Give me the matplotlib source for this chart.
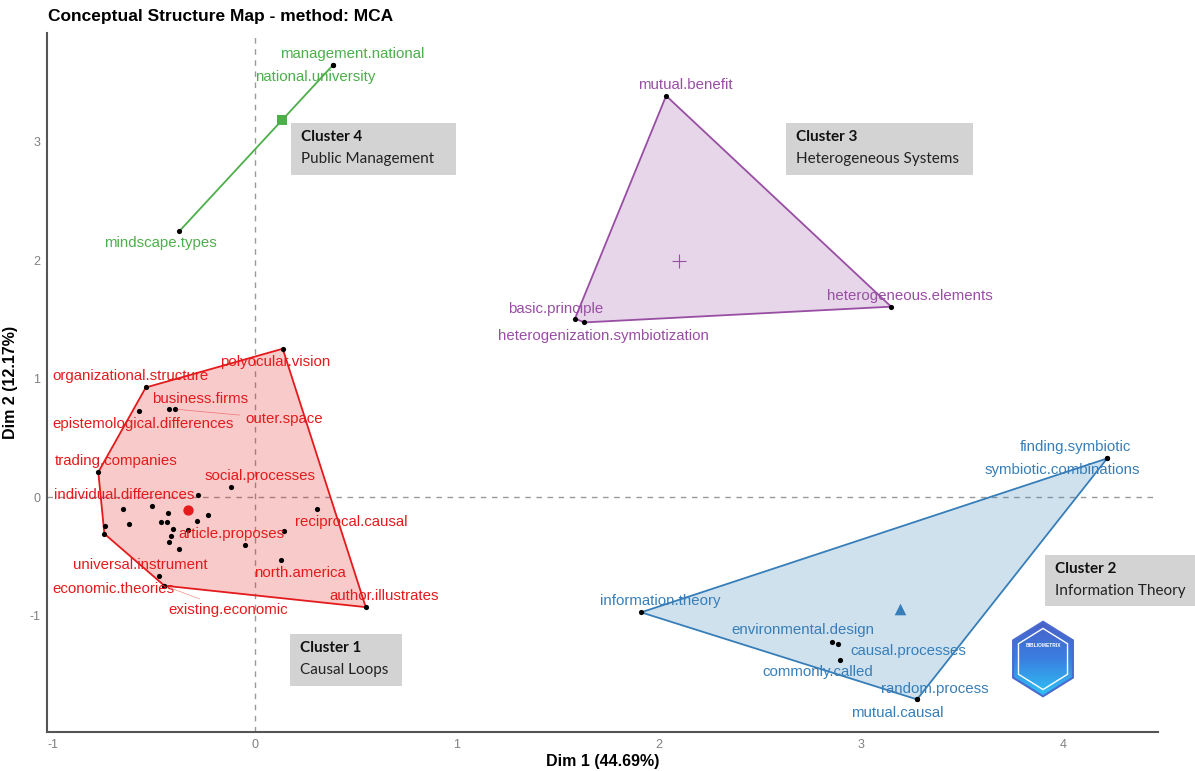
"""
Carte de structure conceptuelle (MCA) : 4 clusters de mots avec enveloppes convexes.
"""
import numpy as np
import matplotlib
matplotlib.use('Agg')
import matplotlib.pyplot as plt
from matplotlib.patches import Polygon, Rectangle, RegularPolygon

plt.rcParams['font.family'] = ['Liberation Sans', 'DejaVu Sans']
plt.rcParams['axes.unicode_minus'] = False  # "-1" comme dans ggplot

# ─── Données ─────────────────────────────────────────────────────────────────
c1_words = ['polyocular.vision', 'organizational.structure', 'epistemological.differences',
            'business.firms', 'outer.space', 'trading.companies', 'social.processes',
            'individual.differences', '', '', '', '', '', '', '', '', '', '', '',
            'article.proposes', '', '', '', '', 'reciprocal.causal', '', 'north.america',
            'universal.instrument', 'economic.theories', 'existing.economic', 'author.illustrates']
c1_x = [0.137, -0.541, -0.573, -0.424, -0.396, -0.776, -0.119, -0.284, -0.652, -0.511,
        -0.431, -0.289, -0.234, -0.743, -0.746, -0.622, -0.467, -0.437, -0.404, -0.330,
        -0.418, -0.424, -0.378, -0.051, 0.305, 0.145, 0.127, -0.478, -0.449, -0.449, 0.548]
c1_y = [1.255, 0.928, 0.726, 0.745, 0.745, 0.214, 0.087, 0.020, -0.101, -0.073,
        -0.129, -0.197, -0.149, -0.242, -0.307, -0.228, -0.208, -0.208, -0.264, -0.278,
        -0.327, -0.374, -0.436, -0.405, -0.096, -0.281, -0.526, -0.667, -0.745, -0.745, -0.926]

c2_words = ['finding.symbiotic', 'symbiotic.combinations', 'information.theory',
            'environmental.design', 'causal.processes', 'commonly.called',
            'random.process', 'mutual.causal']
c2_x = [4.218, 4.218, 1.911, 2.856, 2.886, 2.896, 3.277, 3.277]
c2_y = [0.329, 0.329, -0.970, -1.224, -1.240, -1.376, -1.705, -1.705]

c3_words = ['mutual.benefit', 'basic.principle', 'heterogenization.symbiotization',
            'heterogeneous.elements']
c3_x = [2.035, 1.584, 1.629, 3.149]
c3_y = [3.390, 1.510, 1.477, 1.610]

c4_words = ['management.national', 'national.university', 'mindscape.types']
c4_x = [0.386, 0.386, -0.376]
c4_y = [3.650, 3.650, 2.245]

cluster_titles = ['Cluster 1', 'Cluster 2', 'Cluster 3', 'Cluster 4']
cluster_names = ['Causal Loops', 'Information Theory', 'Heterogeneous Systems', 'Public Management']

x_ticks = [-1, 0, 1, 2, 3, 4]
y_ticks = [-1, 0, 1, 2, 3]

# ─── Mise en forme ───────────────────────────────────────────────────────────
colors = ['#E41A1C', '#377EB8', '#984EA3', '#4DAF4A']
centroid_markers = ['o', '^', '+', 's']
centroid_sizes = [55, 70, 110, 50]

# décalage des étiquettes (pixels, x vers la droite, y vers le bas) façon ggrepel
label_offsets = {
    'polyocular.vision': (-8, 13), 'organizational.structure': (-15, -11),
    'epistemological.differences': (4, 13), 'business.firms': (31, -10),
    'outer.space': (109, 10), 'trading.companies': (18, -11),
    'social.processes': (29, -11), 'individual.differences': (-74, 0),
    'article.proposes': (43, 4), 'reciprocal.causal': (35, 13),
    'north.america': (19, 13), 'universal.instrument': (-18, -11),
    'economic.theories': (-51, 3), 'existing.economic': (64, 24),
    'author.illustrates': (18, -11),
    'finding.symbiotic': (-32, -11), 'symbiotic.combinations': (-45, 12),
    'information.theory': (19, -11), 'environmental.design': (-29, -12),
    'causal.processes': (70, 7), 'commonly.called': (-22, 12),
    'random.process': (18, -10), 'mutual.causal': (-20, 14),
    'mutual.benefit': (19, -11), 'basic.principle': (-19, -10),
    'heterogenization.symbiotization': (19, 14), 'heterogeneous.elements': (19, -11),
    'management.national': (19, -11), 'national.university': (-18, 12),
    'mindscape.types': (-19, 12),
}
leader_words = {'outer.space', 'existing.economic'}

# boîtes grises des clusters (pixels image : x0, y0, x1, y1)
boxes_px = [(290, 634, 402, 686), (1045, 555, 1200, 606),
            (786, 123, 973, 175), (291, 123, 456, 175)]

W, H = 1195, 771


def convex_hull(pts):
    """Enveloppe convexe (chaîne monotone d'Andrew)."""
    pts = sorted(set(pts))
    if len(pts) < 3:
        return pts

    def cross(o, a, b):
        return (a[0] - o[0]) * (b[1] - o[1]) - (a[1] - o[1]) * (b[0] - o[0])

    lower, upper = [], []
    for p in pts:
        while len(lower) >= 2 and cross(lower[-2], lower[-1], p) <= 0:
            lower.pop()
        lower.append(p)
    for p in reversed(pts):
        while len(upper) >= 2 and cross(upper[-2], upper[-1], p) <= 0:
            upper.pop()
        upper.append(p)
    return lower[:-1] + upper[:-1]


fig = plt.figure(figsize=(W / 100, H / 100), dpi=100)
ax = fig.add_axes([47 / W, 1 - 732 / H, (1158 - 47) / W, (732 - 33) / H])

ax.axvline(0, color='#9a9a9a', ls=(0, (4, 4)), lw=1.0, zorder=0)
ax.axhline(0, color='#9a9a9a', ls=(0, (4, 4)), lw=1.0, zorder=0)

clusters = [(c1_words, c1_x, c1_y), (c2_words, c2_x, c2_y),
            (c3_words, c3_x, c3_y), (c4_words, c4_x, c4_y)]

for k, (words, xs, ys) in enumerate(clusters):
    col = colors[k]
    hull = convex_hull(list(zip(xs, ys)))
    if len(hull) >= 3:
        ax.add_patch(Polygon(hull, closed=True, facecolor=col, alpha=0.23,
                             edgecolor='none', zorder=1))
        ax.add_patch(Polygon(hull, closed=True, facecolor='none',
                             edgecolor=col, lw=1.3, zorder=2))
    else:
        hx, hy = zip(*hull)
        ax.plot(hx, hy, color=col, lw=1.3, zorder=2)

    ax.scatter(xs, ys, s=14, color='black', zorder=4, linewidths=0)
    ax.scatter([np.mean(xs)], [np.mean(ys)], s=centroid_sizes[k],
               marker=centroid_markers[k], color=col, zorder=5,
               linewidths=0.8 if centroid_markers[k] == '+' else 0)

    for w, x, y in zip(words, xs, ys):
        if not w:
            continue
        dx, dy = label_offsets[w]
        arrow = None
        if w in leader_words:
            arrow = dict(arrowstyle='-', color=col, lw=0.5, alpha=0.5,
                         shrinkA=2, shrinkB=1)
        ax.annotate(w, (x, y), xytext=(dx, -dy), textcoords='offset pixels',
                    ha='center', va='center', fontsize=10.8, color=col,
                    zorder=6, arrowprops=arrow)

ax.set_xlim(-1.03, 4.47)
ax.set_ylim(-1.98, 3.92)
ax.set_xticks(x_ticks)
ax.set_yticks(y_ticks)
ax.tick_params(length=0, labelsize=9, labelcolor='#808080', pad=5)
for s in ['top', 'right']:
    ax.spines[s].set_visible(False)
for s in ['left', 'bottom']:
    ax.spines[s].set_color('#555555')
    ax.spines[s].set_linewidth(1.5)

ax.set_xlabel('Dim 1 (44.69%)', fontsize=11.5, fontweight='bold')
ax.set_ylabel('Dim 2 (12.17%)', fontsize=11.5, fontweight='bold')
ax.xaxis.set_label_coords(0.5, -0.032)
ax.yaxis.set_label_coords(-0.026, 0.5)
fig.text(48 / W, 1 - 16 / H, 'Conceptual Structure Map - method: MCA',
         fontsize=12.5, fontweight='bold', va='center', ha='left')

# boîtes d'annotation des clusters
for k, (x0, y0, x1, y1) in enumerate(boxes_px):
    fig.patches.append(Rectangle((x0 / W, 1 - y1 / H), (x1 - x0) / W, (y1 - y0) / H,
                                 transform=fig.transFigure, facecolor='#d3d3d3',
                                 edgecolor='none', zorder=7))
    fig.text((x0 + 10) / W, 1 - (y0 + 14) / H, cluster_titles[k], family='Lato',
             fontsize=11, fontweight='bold', va='center', ha='left', color='#111111', zorder=8)
    fig.text((x0 + 10) / W, 1 - (y0 + 36) / H, cluster_names[k], family='Lato',
             fontsize=11, va='center', ha='left', color='#222222', zorder=8)

# logo bibliometrix (hexagone)
lax = fig.add_axes([1005 / W, 1 - 700 / H, 76 / W, 82 / H])
lax.set_xlim(-1.1, 1.1)
lax.set_ylim(-1.1, 1.1)
lax.set_aspect('equal')
lax.axis('off')
grad = np.linspace(0, 1, 100).reshape(-1, 1)
img = lax.imshow(grad, extent=(-1, 1, -1, 1), cmap=matplotlib.colors.LinearSegmentedColormap.from_list(
    'logo', ['#2fc2f5', '#3a7fe0', '#4a5fc8']), origin='lower', aspect='auto')
hexa = RegularPolygon((0, 0), 6, radius=1.0, facecolor='none', edgecolor='#4a6ad0', lw=1.5)
lax.add_patch(hexa)
img.set_clip_path(hexa)
lax.add_patch(RegularPolygon((0, 0), 6, radius=0.82, facecolor='none', edgecolor='white', lw=1.0))
lax.text(0, 0.35, 'BIBLIOMETRIX', fontsize=3.5, color='white', ha='center', va='center',
         fontweight='bold')

fig.savefig('out.png', dpi=100)
